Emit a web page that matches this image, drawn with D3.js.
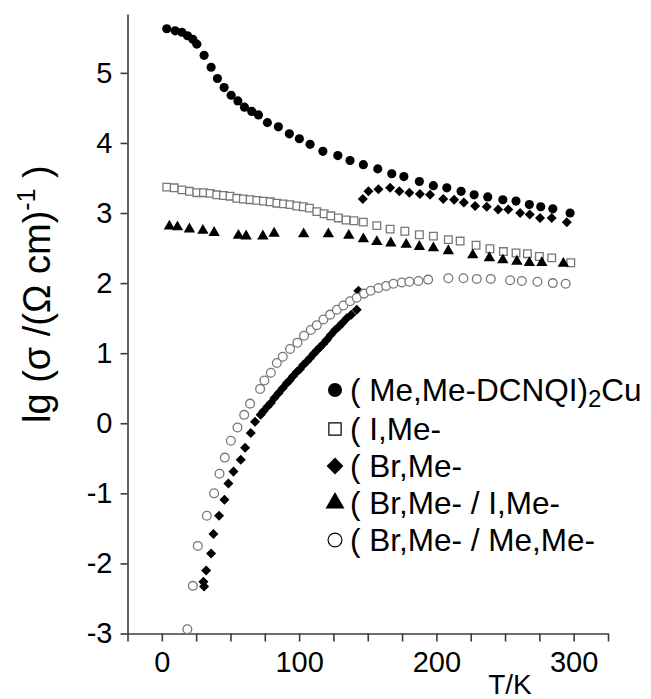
<!DOCTYPE html>
<html>
<head>
<meta charset="utf-8">
<script src="https://cdn.jsdelivr.net/npm/d3@7"></script>
<style>
  body { margin: 0; background: #fff; }
  svg { display: block; font-family: "Liberation Sans", Arial, sans-serif; }
</style>
</head>
<body>
<svg width="651" height="699"></svg>
<script>
// Conductivity vs temperature, DCNQI copper salts
// Each series is [T (K), lg sigma]

var meMe = [
  [3.6,5.63],[9.7,5.60],[14.6,5.58],[18.7,5.53],[22.6,5.48],[25.5,5.41],[30.8,5.25],
  [35.9,5.08],[40.5,4.92],[45.4,4.79],[50.5,4.68],[55.4,4.60],[60.2,4.51],[65.5,4.45],
  [70.4,4.40],[76.9,4.29],[84.9,4.23],[92.9,4.13],[100.2,4.06],[108,3.98],[117.3,3.88],
  [128.2,3.82],[137.1,3.75],[146.8,3.69],[157.3,3.63],[167.5,3.56],[176.3,3.52],[187.6,3.45],
  [197.8,3.39],[207.6,3.36],[218,3.31],[227.5,3.26],[237.4,3.23],[248.4,3.19],[258,3.17],
  [267.7,3.12],[276,3.09],[284.8,3.06],[297.4,3.00]
];

var iMe = [
  [3.6,3.37],[9,3.36],[14.6,3.33],[20.1,3.31],[25.5,3.29],[30.3,3.29],[35.2,3.28],[40,3.26],
  [44.9,3.25],[49.7,3.24],[54.6,3.21],[59.4,3.20],[64.3,3.19],[69.2,3.18],[74,3.17],[78.9,3.16],
  [83.8,3.14],[88.6,3.13],[93.4,3.12],[98.3,3.10],[103.1,3.09],[107.5,3.07],[112.9,3.02],
  [118.2,2.99],[123.1,2.96],[128.6,2.93],[134.2,2.90],[140,2.89],[146.8,2.87],[156.6,2.82],
  [166.3,2.77],[177,2.74],[187.6,2.69],[197.8,2.67],[208.7,2.62],[217.3,2.60],[228.9,2.54],
  [239,2.49],[248.8,2.45],[258,2.43],[266.3,2.42],[275,2.38],[284,2.36],[297.9,2.29]
];

var brMe = [
  [30.3,-2.26],[30.8,-2.33],[32.3,-2.10],[35.9,-1.86],[37.6,-1.58],[41.7,-1.32],[45.6,-1.09],
  [48.5,-0.86],[52.2,-0.69],[57.5,-0.52],[60.7,-0.35],[64.8,-0.14],[67.9,0.02],[72,0.12],
  [74,0.17],[77,0.24],[79.4,0.29],[82,0.36],[85,0.43],[88,0.50],[91,0.57],[93,0.61],
  [95.5,0.67],[98.3,0.73],[100.5,0.77],[103,0.83],[105.6,0.88],[108,0.93],[110.5,0.99],
  [112.9,1.04],[115,1.08],[117.5,1.13],[120.2,1.19],[123,1.26],[126.2,1.33],[129,1.38],
  [131.5,1.43],[134.7,1.50],[138,1.55],[142,1.62],[143.2,1.89],
  [146.4,3.20],[150.5,3.31],[157.8,3.34],[166.3,3.36],[173,3.31],[180.3,3.29],[188,3.27],
  [195.4,3.26],[205,3.20],[212.9,3.19],[220,3.15],[228.2,3.10],[236.7,3.09],[245,3.05],
  [252.4,3.05],[261,3.00],[268,2.98],[275.5,2.93],[284,2.93],[295,2.87]
];

var brI = [
  [5.5,2.81],[11.4,2.80],[20.1,2.77],[29.9,2.75],[38.1,2.72],[55.8,2.68],[61.4,2.67],
  [73.6,2.67],[81.8,2.71],[103.3,2.70],[121.3,2.70],[136.2,2.68],[146.8,2.63],[156.6,2.59],
  [166.8,2.57],[178,2.55],[187.6,2.52],[197.8,2.50],[208.7,2.46],[226.5,2.40],[238.6,2.36],
  [248.4,2.33],[258.6,2.31],[267.7,2.29],[276.8,2.29],[292.5,2.28]
];

var brMeMe = [
  [18.6,-2.94],[22.6,-2.32],[26.2,-1.75],[32.8,-1.32],[38.1,-1.00],[42,-0.72],[45.9,-0.49],
  [50.3,-0.25],[55.1,-0.06],[60,0.12],[64.3,0.28],[71.6,0.49],[74.7,0.61],[79.4,0.72],
  [83.8,0.86],[88.1,0.95],[93.4,1.06],[98.8,1.15],[103.6,1.25],[108.5,1.33],[112.9,1.40],
  [117.7,1.48],[122.6,1.55],[127.5,1.62],[132.3,1.68],[137.1,1.74],[142,1.79],[147.3,1.85],
  [152.2,1.89],[157.8,1.93],[163.4,1.96],[168.7,1.99],[174.8,2.01],[180.3,2.02],[186.9,2.03],
  [194,2.05],[208.7,2.07],[219.7,2.07],[229.4,2.06],[239.6,2.06],[253.7,2.04],[262.2,2.03],
  [273.6,2.02],[284.8,2.00],[294.2,1.99]
];

var yTicks = [-3, -2, -1, 0, 1, 2, 3, 4, 5];
var xTicks = [-25, 0, 25, 50, 75, 100, 125, 150, 175, 200, 225, 250, 275, 300, 325];
var xLabels = [0, 100, 200, 300];

var legendNames = ["( Me,Me-DCNQI)", "( I,Me-", "( Br,Me-", "( Br,Me- / I,Me-", "( Br,Me- / Me,Me-"];

var svg = d3.select("svg");
var axisColor = "#3a3a3a";
var openColor = "#777";

var x = d3.scaleLinear().domain([-25, 325]).range([127.5, 608]);
var y = d3.scaleLinear().domain([-3, 5.84]).range([633.5, 14]);

// y axis
var gy = svg.append("g")
    .attr("transform", "translate(" + x(-25) + ",0)")
    .call(d3.axisLeft(y).tickValues(yTicks).tickSize(7).tickSizeOuter(0).tickPadding(8)
      .tickFormat(function(d) { return d < 0 ? "-" + (-d) : d; }));
gy.select(".domain").attr("stroke", axisColor).attr("stroke-width", 1.6);
gy.selectAll(".tick line").attr("stroke", axisColor).attr("stroke-width", 1.6);
gy.selectAll(".tick text").attr("font-size", 29).attr("fill", "#000")
    .attr("font-family", "Liberation Sans, Arial, sans-serif");

// x axis
var gx = svg.append("g")
    .attr("transform", "translate(0," + y(-3) + ")")
    .call(d3.axisBottom(x).tickValues(xTicks).tickSize(8).tickSizeOuter(0).tickPadding(10)
      .tickFormat(function(d) { return xLabels.indexOf(d) >= 0 ? d : ""; }));
gx.select(".domain").attr("stroke", axisColor).attr("stroke-width", 1.6);
gx.selectAll(".tick line").attr("stroke", axisColor).attr("stroke-width", 1.6);
gx.selectAll(".tick text").attr("font-size", 29).attr("fill", "#000")
    .attr("font-family", "Liberation Sans, Arial, sans-serif");

// axis titles
svg.append("text")
    .attr("x", 510).attr("y", 694)
    .attr("text-anchor", "middle")
    .attr("font-size", 28)
    .text("T/K");

var yt = svg.append("text")
    .attr("transform", "translate(50,423) rotate(-90)")
    .attr("font-size", 38);
yt.append("tspan").text("lg (σ /(Ω cm)");
yt.append("tspan").attr("font-size", 25).attr("dy", -15).text("-1");
yt.append("tspan").attr("dy", 15).text(" )");

// marker drawing
var sym = {
  circle: function(s) { return d3.symbol(d3.symbolCircle, s)(); },
  square: function(s) { return d3.symbol(d3.symbolSquare, s)(); },
  diamond: function(s) { return d3.symbol(d3.symbolDiamond2, s)(); },
  triangle: function(s) { return d3.symbol(d3.symbolTriangle, s)(); }
};

var series = [
  {data: meMe, shape: "circle", size: 66, fill: "#000", stroke: "none"},
  {data: iMe, shape: "square", size: 58, fill: "#fff", stroke: openColor},
  {data: brMe, shape: "diamond", size: 64, fill: "#000", stroke: "none"},
  {data: brI, shape: "triangle", size: 56, fill: "#000", stroke: "none"},
  {data: brMeMe, shape: "circle", size: 60, fill: "#fff", stroke: openColor}
];

series.forEach(function(s) {
  svg.append("g").selectAll("path")
    .data(s.data)
    .enter().append("path")
      .attr("transform", function(d) { return "translate(" + x(d[0]) + "," + y(d[1]) + ")"; })
      .attr("d", sym[s.shape](s.size))
      .attr("fill", s.fill)
      .attr("stroke", s.stroke)
      .attr("stroke-width", 1.3);
});

// legend
var legendY = [390, 429, 466, 503, 540];
var legendSizes = [155, 150, 180, 156, 150];
var lg = svg.append("g");
legendNames.forEach(function(name, i) {
  var s = series[i];
  lg.append("path")
    .attr("transform", "translate(335," + legendY[i] + ")")
    .attr("d", sym[s.shape](legendSizes[i]))
    .attr("fill", s.fill)
    .attr("stroke", s.stroke == "none" ? "none" : "#000")
    .attr("stroke-width", 1.2);
  var t = lg.append("text")
    .attr("x", 350).attr("y", legendY[i] + 11)
    .attr("font-size", 31.5)
    .text(name);
  if (i == 0) {
    t.append("tspan").attr("font-size", 24).attr("dy", 6).text("2");
    t.append("tspan").attr("dy", -6).text("Cu");
  }
});
</script>
</body>
</html>
